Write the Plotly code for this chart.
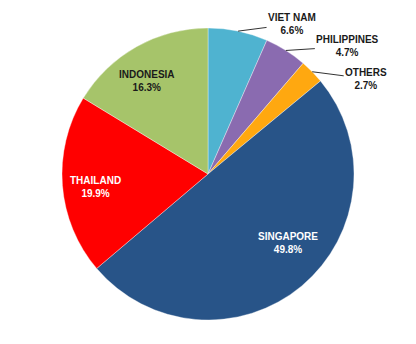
import math
import plotly.graph_objects as go

labels = ["VIET NAM", "PHILIPPINES", "OTHERS", "SINGAPORE", "THAILAND", "INDONESIA"]
values = [6.6, 4.7, 2.7, 49.8, 19.9, 16.3]
colors = ["#4fb3d0", "#8a6bb0", "#ffa810", "#285488", "#ff0000", "#a6c46a"]

# label styling (not data)
text_colors = ["#1a1a1a", "#1a1a1a", "#1a1a1a", "#ffffff", "#ffffff", "#1a1a1a"]
outside = [True, True, True, False, False, False]
# outside label offsets (px) / inside label radius fraction + nudges (px, down positive)
out_offsets = {0: (54, -7), 1: (62, -4), 2: (54, 7)}
in_style = {3: (0.78, 7, -18), 4: (0.78, 1, 4), 5: (0.78, -5, 6)}

W, H = 416, 344
mt, mb, ml, mr = 28, 24, 0, 0
pw, ph = W - ml - mr, H - mt - mb
R = min(pw, ph) / 2.0

fig = go.Figure(go.Pie(
    labels=labels,
    values=values,
    sort=False,
    direction="clockwise",
    rotation=0,
    marker=dict(colors=colors, line=dict(color="rgba(255,255,255,0.35)", width=1)),
    textinfo="none",
    showlegend=False,
    hoverinfo="skip",
))

total = sum(values)
cum = 0.0
annotations = []
for i, (lab, v) in enumerate(zip(labels, values)):
    mid = (cum + v / 2.0) / total * 2 * math.pi
    cum += v
    txt = f"<b>{lab}<br>{v:.1f}%</b>"
    if outside[i]:
        ex = pw / 2 + R * math.sin(mid)
        ey = ph / 2 + R * math.cos(mid)
        ax, ay = out_offsets[i]
        annotations.append(dict(
            x=ex / pw, y=ey / ph, xref="paper", yref="paper",
            text=txt, showarrow=True, arrowhead=0, arrowwidth=1,
            arrowcolor="#333333", ax=ax, ay=ay, standoff=0,
            font=dict(family="Arial, Liberation Sans", size=10, color=text_colors[i]),
            align="center",
        ))
    else:
        frac, dx, dy = in_style[i]
        x = pw / 2 + frac * R * math.sin(mid) + dx
        y = ph / 2 + frac * R * math.cos(mid) - dy
        annotations.append(dict(
            x=x / pw, y=y / ph, xref="paper", yref="paper",
            text=txt, showarrow=False, xanchor="center", yanchor="middle",
            font=dict(family="Arial, Liberation Sans", size=10, color=text_colors[i]),
            align="center",
        ))

fig.update_layout(
    width=W, height=H,
    margin=dict(l=ml, r=mr, t=mt, b=mb),
    paper_bgcolor="white",
    plot_bgcolor="white",
    annotations=annotations,
)
fig.write_html("out.html")
